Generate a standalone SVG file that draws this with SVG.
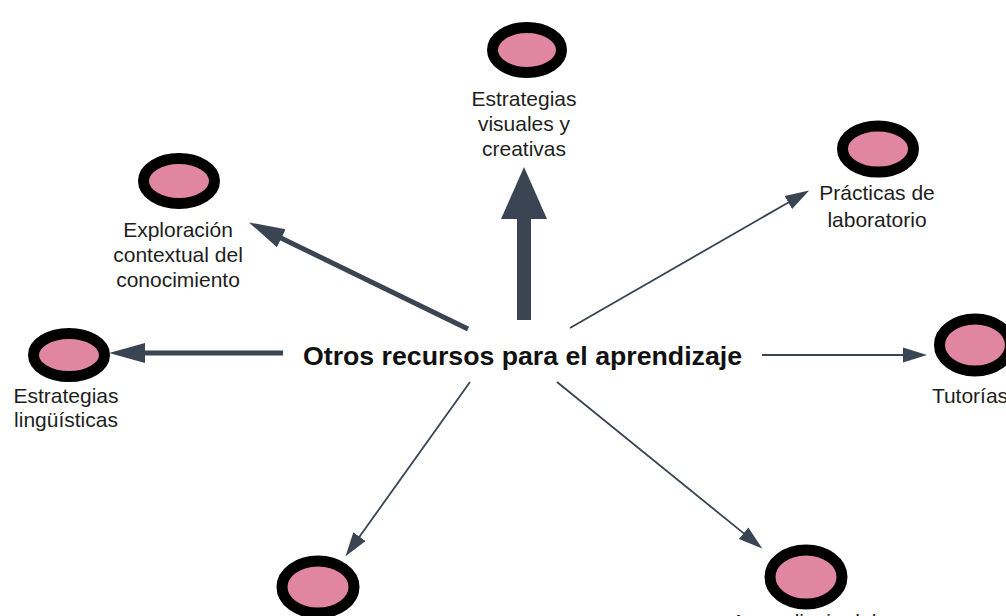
<svg xmlns="http://www.w3.org/2000/svg" width="1006" height="616" viewBox="0 0 1006 616">
<style>
.node ellipse{fill:#E085A2;stroke:#000;stroke-width:11}
.lbl{font-family:"Liberation Sans",Arial,sans-serif;font-size:21px;fill:#1e1e1e;text-anchor:middle}
.main{font-family:"Liberation Sans",Arial,sans-serif;font-size:25px;font-weight:bold;fill:#111}
.c{stroke:#3A4452;fill:none}
</style>
<defs>
<marker id="big" markerUnits="userSpaceOnUse" markerWidth="54" markerHeight="48" viewBox="0 -24 54 48" refX="1" refY="0" orient="auto"><path d="M0,-23 L52,0 L0,23 z" fill="#3A4452"/></marker>
<marker id="mid" markerUnits="userSpaceOnUse" markerWidth="38" markerHeight="24" viewBox="0 -12 38 24" refX="1" refY="0" orient="auto"><path d="M0,-10 L36,0 L0,10 z" fill="#3A4452"/></marker>
<marker id="sm" markerUnits="userSpaceOnUse" markerWidth="26" markerHeight="18" viewBox="0 -9 26 18" refX="1" refY="0" orient="auto"><path d="M0,-7.5 L24,0 L0,7.5 z" fill="#3A4452"/></marker>
</defs>
<rect width="1006" height="616" fill="#fff"/>
<g id="connectors">
<path class="c" d="M524,320 L524,218" stroke-width="14" marker-end="url(#big)"/>
<path class="c" d="M468,329 L280.4,237.7" stroke-width="5" marker-end="url(#mid)"/>
<path class="c" d="M283,353 L144,353" stroke-width="5" marker-end="url(#mid)"/>
<path class="c" d="M570,328 L789.2,202" stroke-width="1.8" marker-end="url(#sm)"/>
<path class="c" d="M762,355 L904,355" stroke-width="1.8" marker-end="url(#sm)"/>
<path class="c" d="M470,382 L358.9,537.5" stroke-width="1.8" marker-end="url(#sm)"/>
<path class="c" d="M557,382 L744.4,533.9" stroke-width="1.8" marker-end="url(#sm)"/>
</g>
<g id="center"><text class="main" x="303" y="365" textLength="439" lengthAdjust="spacingAndGlyphs">Otros recursos para el aprendizaje</text></g>
<g id="n-visuales" class="node"><ellipse cx="527" cy="50" rx="34.5" ry="22.5"/>
<text class="lbl" x="524" y="106">Estrategias</text><text class="lbl" x="524" y="131">visuales y</text><text class="lbl" x="524" y="156">creativas</text></g>
<g id="n-exploracion" class="node"><ellipse cx="179" cy="181" rx="35.5" ry="22.5"/>
<text class="lbl" x="178" y="237">Exploración</text><text class="lbl" x="178" y="262">contextual del</text><text class="lbl" x="178" y="287">conocimiento</text></g>
<g id="n-linguisticas" class="node"><ellipse cx="69" cy="355" rx="35.5" ry="21.5"/>
<text class="lbl" x="66" y="403">Estrategias</text><text class="lbl" x="66" y="427">lingüísticas</text></g>
<g id="n-laboratorio" class="node"><ellipse cx="878" cy="149" rx="35.5" ry="23"/>
<text class="lbl" x="877" y="200">Prácticas de</text><text class="lbl" x="877" y="227">laboratorio</text></g>
<g id="n-tutorias" class="node"><ellipse cx="975" cy="345" rx="35.5" ry="26"/>
<text class="lbl" x="970" y="403">Tutorías</text></g>
<g id="n-bottom-left" class="node"><ellipse cx="318" cy="587" rx="36" ry="26"/></g>
<g id="n-bottom-right" class="node"><ellipse cx="806" cy="577" rx="36" ry="27"/>
<text class="lbl" x="804" y="629">Aprendizaje del</text></g>
</svg>
